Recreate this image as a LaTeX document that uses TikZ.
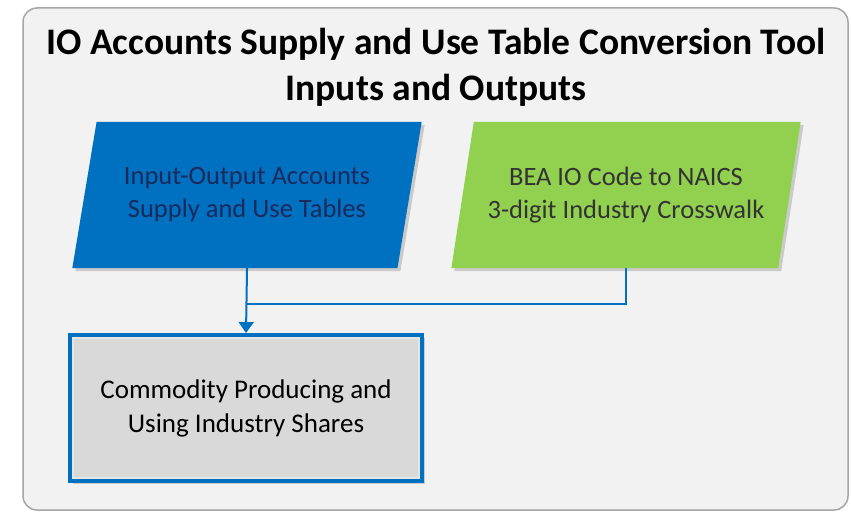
\documentclass[tikz,border=0pt]{standalone}
\usepackage{fontspec}
\setmainfont{Carlito}
\usetikzlibrary{shapes.geometric,arrows.meta,shadows,calc}

\definecolor{ioblue}{HTML}{0070C0}
\definecolor{ioGreen}{HTML}{92D050}
\definecolor{framefill}{HTML}{F2F2F2}
\definecolor{boxfill}{HTML}{D9D9D9}
\definecolor{navytext}{HTML}{1A2A5C}

\tikzset{
	datain/.style={trapezium, trapezium left angle=70, trapezium right angle=110,
		trapezium stretches=true, minimum width=350pt, minimum height=146pt,
		inner sep=0pt, align=center, font=\fontsize{26.5}{33}\selectfont,
		drop shadow={shadow xshift=3pt, shadow yshift=-3pt, opacity=0.35}},
	resultbox/.style={draw=ioblue, line width=4pt, fill=boxfill, minimum width=352pt,
		minimum height=146pt, align=center, font=\fontsize{27}{34}\selectfont,
		drop shadow={shadow xshift=3pt, shadow yshift=-3pt, opacity=0.35}},
	conn/.style={draw=ioblue, line width=2pt}
}

\begin{document}
\begin{tikzpicture}[x=1pt,y=-1pt]
		\useasboundingbox (0,0) rectangle (851,513);
		\draw [rounded corners=14pt, fill=framefill, draw=gray!70, line width=1.5pt] (23,8) rectangle (848,510);
		
		\node [align=center, font=\bfseries\fontsize{37.5}{46}\selectfont] (title) at (436,67)
			{IO Accounts Supply and Use Table Conversion Tool\\Inputs and Outputs};
		
		\node [datain, fill=ioblue, text=navytext] (suse) at (247,195)
			{Input-Output Accounts\\Supply and Use Tables};
		\node [datain, fill=ioGreen, text=black!80] (xwalk) at (626,195)
			{BEA IO Code to NAICS\\3-digit Industry Crosswalk};
		
		\node [resultbox] (shares) at (246,408)
			{Commodity Producing and\\Using Industry Shares};
		\draw [white!80!gray, line width=1.5pt] ([shift={(5pt,-5pt)}]shares.north west) rectangle ([shift={(-5pt,5pt)}]shares.south east);
		
		\coordinate (join) at ($(suse.south)!0.55!(shares.north)$);
		\draw [conn, -{Triangle[length=11pt,width=15pt]}] (suse.south) -- (shares.north);
		\draw [conn] (xwalk.south) |- (join);
		
	\end{tikzpicture}
\end{document}
